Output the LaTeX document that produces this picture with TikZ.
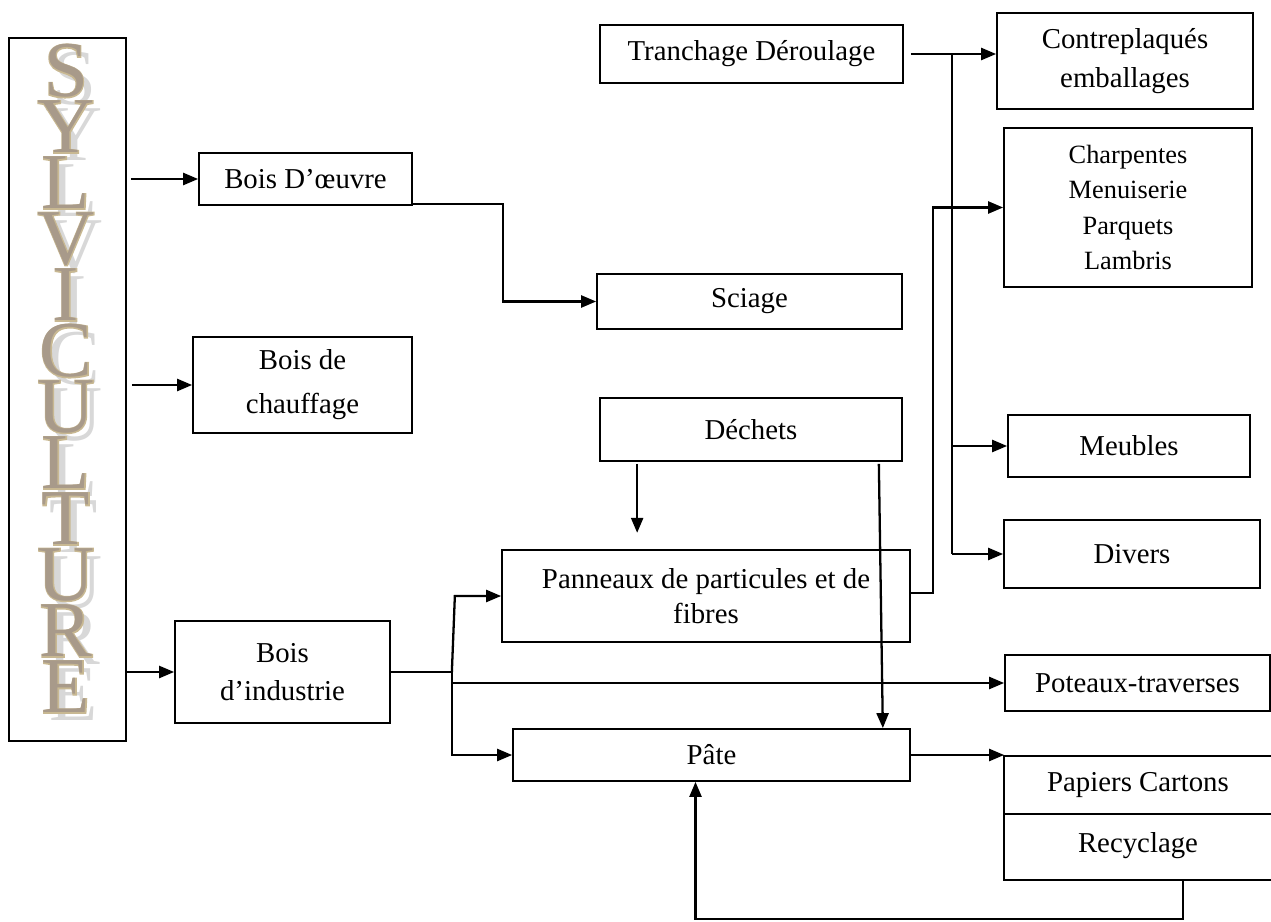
\documentclass[tikz,border=0pt]{standalone}
\usepackage{fontspec}
\setmainfont{Liberation Serif}
\newfontfamily\lettregrasse{Liberation Serif}[FakeBold=2.5]
\usetikzlibrary{arrows.meta,calc}
\definecolor{beige}{HTML}{C8B892}
\definecolor{ecorce}{HTML}{A89A8A}
\definecolor{ombre}{HTML}{D8D8D8}

\begin{document}
\begin{tikzpicture}[x=0.02cm,y=-0.02cm,
	boite/.style={draw,line width=1pt,inner sep=0pt,align=center,font=\fontsize{16.4}{20}\selectfont},
	lettre/.style={inner sep=0pt,font=\fontsize{45}{45}\selectfont},
	fleche/.style={line width=1.3pt,-{Triangle[length=0.3cm,width=0.24cm]}},
	trait/.style={line width=1.3pt}]
	\useasboundingbox (0,0) rectangle (1271,922);
	
	% colonne de gauche
	\node[boite,minimum width=2.34cm,minimum height=14.06cm] (sylvi) at (67.5,389.5) {};
	\foreach \l [count=\i from 0] in {S,Y,L,V,I,C,U,L,T,U,R,E}
	{
		\node[lettre,text=ombre] (om\i) at (74,79+56*\i) {\l};
		\node[lettre,text=beige,font=\fontsize{45}{45}\lettregrasse] (bd\i) at (66,71+56*\i) {\l};
		\node[lettre,text=ecorce] (le\i) at (66,71+56*\i) {\l};
	}
	
	\node[boite,minimum width=4.26cm,minimum height=1.04cm] (oeuvre) at (305.5,179) {Bois D’œuvre};
	\node[boite,minimum width=4.38cm,minimum height=1.92cm] (chauffage) at (302.5,385) {Bois de\\[5pt]chauffage};
	\node[boite,minimum width=4.30cm,minimum height=2.04cm] (industrie) at (282.5,672) {Bois\\[2pt]d’industrie};
	
	% colonne du milieu
	\node[boite,minimum width=6.06cm,minimum height=1.16cm] (tranchage) at (751.5,54) {Tranchage Déroulage};
	\node[boite,minimum width=6.10cm,minimum height=1.10cm] (sciage) at (749.5,301.5) {Sciage};
	\node[boite,minimum width=6.04cm,minimum height=1.26cm] (dechets) at (751,429.5) {Déchets};
	\node[boite,minimum width=8.16cm,minimum height=1.84cm] (panneaux) at (706,596) {Panneaux de particules et de\\fibres};
	\node[boite,minimum width=7.94cm,minimum height=1.04cm] (pate) at (711.5,755) {Pâte};
	
	% colonne de droite
	\node[boite,minimum width=5.12cm,minimum height=1.92cm] (contre) at (1125,61) {Contreplaqués\\[2pt]emballages};
	\node[boite,minimum width=4.96cm,minimum height=3.18cm,font=\fontsize{15}{20.2}\selectfont] (charp) at (1128,207.5) {Charpentes\\Menuiserie\\Parquets\\Lambris};
	\node[boite,minimum width=4.84cm,minimum height=1.24cm] (meubles) at (1129,446) {Meubles};
	\node[boite,minimum width=5.12cm,minimum height=1.36cm] (divers) at (1132,554) {Divers};
	\node[boite,minimum width=5.30cm,minimum height=1.12cm] (poteaux) at (1137.5,683) {Poteaux-traverses};
	\node[boite,draw=none,minimum width=5.32cm,minimum height=1.12cm] (papiers) at (1138,785) {Papiers Cartons};
	\node[boite,draw=none,minimum width=5.32cm,minimum height=1.32cm] (recyclage) at (1138,846) {Recyclage};
	\draw[line width=1pt] (papiers.north east) -- (papiers.north west) -- (recyclage.south west) -- (recyclage.south east);
	\draw[line width=1pt] (papiers.south west) -- (papiers.south east);
	
	% fleches
	\draw[fleche] (sylvi.east |- oeuvre.west) ++(4,0) -- (oeuvre.west);
	\draw[fleche] (sylvi.east |- chauffage.west) ++(5,0) -- (chauffage.west);
	\draw[fleche] (sylvi.east |- industrie.west) -- (industrie.west);
	\draw[fleche] (oeuvre.south east) ++(0,-2) -- ++(90,0) |- (sciage.west);
	
	\draw[trait] (industrie.east) -- ++(61,0) coordinate (jn);
	\draw[fleche] (jn) -- ++(3,-76) -- (panneaux.west);
	\draw[fleche] (jn) |- (pate.west);
	\draw[fleche] (jn |- poteaux.west) -- (poteaux.west);
	
	\draw[fleche] (dechets.south west) ++(38,2) -- ++(0,69);
	\draw[fleche] (dechets.south east) ++(-24,2) -- ($(pate.north east)+(-28,0)$);
	\draw[fleche] (panneaux.east) ++(0,-3) -- ++(22,0) |- (charp.west);
	
	\draw[fleche] (tranchage.east) ++(7,0) -- (tranchage.east -| contre.west);
	\draw[trait] (tranchage.east) ++(48,0) coordinate (vt) -- (vt |- divers.west);
	\draw[fleche] (vt |- meubles.west) -- (meubles.west);
	\draw[fleche] (vt |- divers.west) -- (divers.west);
	
	\draw[fleche] (pate.east) -- (pate.east -| papiers.west);
	\draw[fleche] (recyclage.south) ++(45,0) -- ++(0,39) -| ($(pate.south)+(-16,0)$);
\end{tikzpicture}
\end{document}
